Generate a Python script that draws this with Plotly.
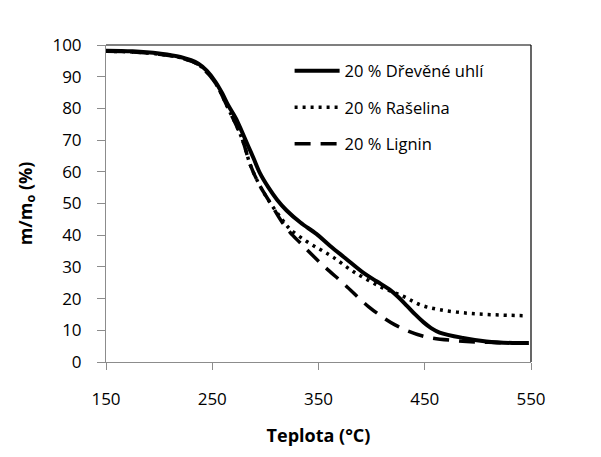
import plotly.graph_objects as go

# Temperature (°C) and relative mass m/m0 (%)
t_uhli = [150, 175, 200, 220, 237, 245, 253, 259, 265, 272, 278, 284, 289, 295, 303, 311, 320,
          333, 348, 361, 375, 392, 405, 417, 425, 433, 441, 449, 456, 464, 486, 508, 533, 548]
m_uhli = [98.2, 98.0, 97.3, 96.2, 94.1, 91.8, 88.4, 85.0, 81.0, 77.0, 72.6, 68.0, 64.2, 59.5, 55.0, 51.2, 47.8,
          44.0, 40.4, 36.6, 32.8, 28.2, 25.4, 22.8, 20.5, 17.8, 15.0, 12.5, 10.7, 9.3, 7.6, 6.5, 6.0, 6.0]

t_raselina = [150, 175, 200, 220, 237, 245, 253, 265, 278, 286, 295, 305, 315, 323, 339, 352,
              364, 383, 408, 430, 446, 464, 490, 515, 545]
m_raselina = [98.0, 97.8, 97.1, 96.0, 93.8, 91.4, 88.0, 80.0, 70.5, 62.0, 55.5, 50.0, 45.3, 42.0, 38.0, 35.4,
              33.0, 28.5, 23.8, 20.7, 18.0, 16.5, 15.4, 14.9, 14.6]

t_lignin = [150, 175, 200, 220, 237, 245, 253, 265, 278, 286, 295, 305, 315, 323, 333, 352,
            375, 397, 422, 449, 480, 510, 548]
m_lignin = [98.0, 97.8, 97.1, 96.0, 93.8, 91.4, 88.0, 80.0, 70.5, 62.0, 55.5, 50.0, 44.5, 41.0, 37.5, 31.2,
            24.3, 17.5, 11.7, 8.1, 6.7, 6.2, 6.0]

names = ["20 % Dřevěné uhlí", "20 % Rašelina", "20 % Lignin"]
x_ticks = [150, 250, 350, 450, 550]
y_ticks = [0, 10, 20, 30, 40, 50, 60, 70, 80, 90, 100]

FONT = "Open Sans"

fig = go.Figure()
fig.add_trace(go.Scatter(x=t_uhli, y=m_uhli, mode="lines", name=names[0], legendgroup="a",
                         line=dict(color="black", width=4, shape="spline")))
fig.add_trace(go.Scatter(x=t_raselina, y=m_raselina, mode="lines", name=names[1], legendgroup="b",
                         line=dict(color="black", width=3.5, dash="3px,5px", shape="spline")))
fig.add_trace(go.Scatter(x=t_lignin, y=m_lignin, mode="lines", name=names[2], legendgroup="c",
                         line=dict(color="black", width=3.5, dash="16px,10px", shape="spline")))

# the page adds an 8px body margin, so margins are reduced by 8 at left/top
fig.update_layout(
    width=601, height=457,
    margin=dict(l=97.5, r=78, t=36.7, b=102.7, autoexpand=False),
    paper_bgcolor="white", plot_bgcolor="white",
    font=dict(family=FONT, color="black"),
    legend=dict(x=0.432, y=0.973, xanchor="left", yanchor="top", bgcolor="rgba(0,0,0,0)",
                font=dict(family=FONT, size=16.5, color="black"), itemwidth=45,
                tracegroupgap=12, traceorder="grouped"),
    xaxis=dict(range=[150, 550], tickvals=x_ticks, showgrid=False, zeroline=False,
               showline=True, linecolor="#8c8c8c", linewidth=1, automargin=False,
               ticks="outside", ticklen=7, tickcolor="#8c8c8c",
               ticklabelstandoff=15,
               tickfont=dict(family=FONT, size=17, color="black"),
               title=dict(text="<b>Teplota (°C)</b>", standoff=19,
                          font=dict(family=FONT, size=18, color="black"))),
    yaxis=dict(range=[0, 100], tickvals=y_ticks, showgrid=False, zeroline=False,
               showline=True, linecolor="#8c8c8c", linewidth=1, automargin=False,
               ticks="outside", ticklen=8, tickcolor="#8c8c8c",
               ticklabelstandoff=12,
               tickfont=dict(family=FONT, size=17, color="black"),
               title=dict(text="<b>m/m<sub>o</sub> (%)</b>", standoff=15,
                          font=dict(family=FONT, size=18, color="black"))),
    shapes=[
        dict(type="line", xref="paper", yref="paper", x0=0, x1=1, y0=1, y1=1,
             line=dict(color="black", width=1.2)),
        dict(type="line", xref="paper", yref="paper", x0=1, x1=1, y0=0, y1=1,
             line=dict(color="black", width=1.2)),
    ],
)

fig.write_html("out.html")
